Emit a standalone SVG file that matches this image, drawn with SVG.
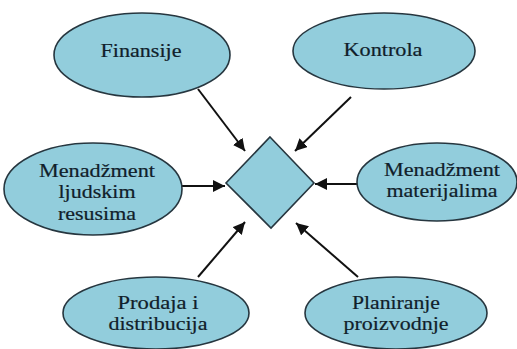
<svg xmlns="http://www.w3.org/2000/svg" width="517" height="349" viewBox="0 0 517 349">
  <style>
    .node { fill: #92CDDC; stroke: #26363F; stroke-width: 1.6; }
    .label { font-size: 19.5px; fill: #10202A; stroke: #10202A; stroke-width: 0.2; text-anchor: middle; }
    .conn { stroke: #111; stroke-width: 2; fill: none; marker-end: url(#arrow); }
  </style>
  <defs>
    <marker id="arrow" viewBox="0 0 10 10" refX="10" refY="5" markerWidth="6" markerHeight="6" markerUnits="strokeWidth" orient="auto">
      <path d="M0,0 L10,5 L0,10 Z" fill="#111"/>
    </marker>
  </defs>
  <rect width="517" height="349" fill="#FFFFFF"/>

  <g id="connectors">
    <line class="conn" x1="198" y1="89" x2="245" y2="151"/>
    <line class="conn" x1="351" y1="97" x2="295" y2="151"/>
    <line class="conn" x1="182" y1="186" x2="225" y2="186"/>
    <line class="conn" x1="357" y1="184" x2="315" y2="184"/>
    <line class="conn" x1="198" y1="277" x2="245" y2="222"/>
    <line class="conn" x1="358" y1="277" x2="296" y2="223"/>
  </g>

  <g id="center">
    <polygon class="node" points="270,137 314,183 271,228 226,183"/>
  </g>

  <g font-family="'Liberation Serif', 'DejaVu Serif', serif">
    <g id="finansije">
      <ellipse class="node" cx="142" cy="55" rx="88" ry="42"/>
      <text class="label" x="141" y="57" textLength="81" lengthAdjust="spacingAndGlyphs">Finansije</text>
    </g>

    <g id="kontrola">
      <ellipse class="node" cx="384" cy="51" rx="91" ry="38"/>
      <text class="label" x="383" y="56" textLength="79" lengthAdjust="spacingAndGlyphs">Kontrola</text>
    </g>

    <g id="ljudski-resursi">
      <ellipse class="node" cx="93" cy="189" rx="89" ry="46"/>
      <text class="label" x="97" y="177" textLength="116" lengthAdjust="spacingAndGlyphs">Menadžment</text>
      <text class="label" x="97" y="198" textLength="77" lengthAdjust="spacingAndGlyphs">ljudskim</text>
      <text class="label" x="97" y="220" textLength="78" lengthAdjust="spacingAndGlyphs">resusima</text>
    </g>

    <g id="materijali">
      <ellipse class="node" cx="437" cy="182" rx="80" ry="39"/>
      <text class="label" x="442" y="176" textLength="116" lengthAdjust="spacingAndGlyphs">Menadžment</text>
      <text class="label" x="442" y="197" textLength="111" lengthAdjust="spacingAndGlyphs">materijalima</text>
    </g>

    <g id="prodaja">
      <ellipse class="node" cx="156" cy="313" rx="93" ry="36"/>
      <text class="label" x="158" y="309" textLength="81" lengthAdjust="spacingAndGlyphs">Prodaja i</text>
      <text class="label" x="158" y="330" textLength="99" lengthAdjust="spacingAndGlyphs">distribucija</text>
    </g>

    <g id="planiranje">
      <ellipse class="node" cx="396" cy="313" rx="91" ry="36"/>
      <text class="label" x="396" y="309" textLength="88" lengthAdjust="spacingAndGlyphs">Planiranje</text>
      <text class="label" x="396" y="330" textLength="105" lengthAdjust="spacingAndGlyphs">proizvodnje</text>
    </g>
  </g>
</svg>
